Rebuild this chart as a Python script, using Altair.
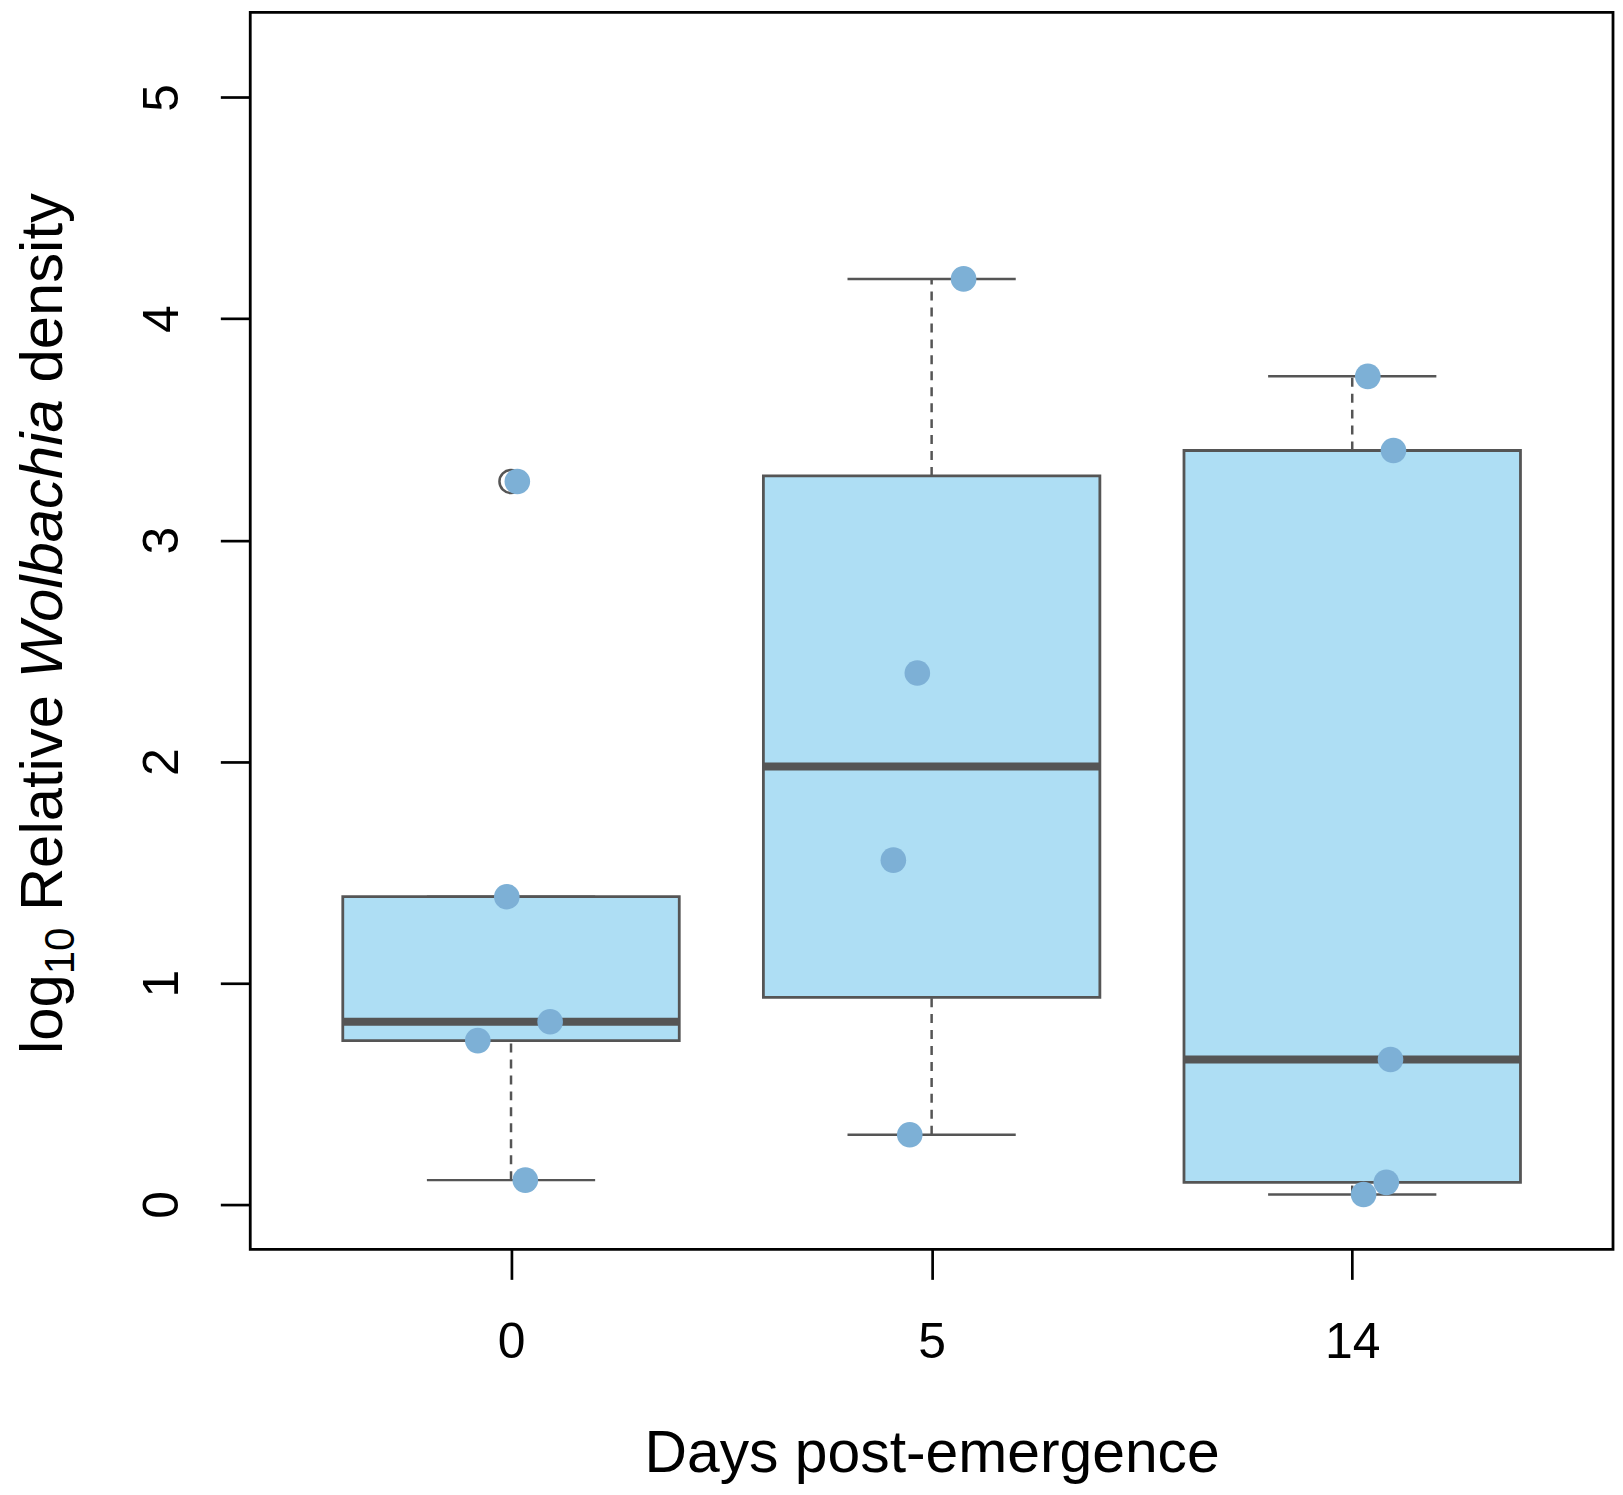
import math
import altair as alt
import pandas as pd

# ---------------- data ----------------
days = ["0", "5", "14"]
positions = [1, 2, 3]
values_day0 = [3.265, 1.39, 0.825, 0.74, 0.11]
jitter_day0 = [0.015, -0.010, 0.093, -0.079, 0.034]
values_day5 = [4.18, 2.40, 1.555, 0.315]
jitter_day5 = [0.076, -0.034, -0.091, -0.052]
values_day14 = [3.74, 3.405, 0.655, 0.10, 0.045]
jitter_day14 = [0.037, 0.098, 0.091, 0.081, 0.027]
y_ticks = [0, 1, 2, 3, 4, 5]

FONT = "Liberation Sans"
BOX_FILL = "#AEDEF4"
LINE_COL = "#555555"
PT_COL = "#7DB0D6"

W, H = 1367, 1241
X_DOMAIN = [0.38, 3.62]
Y_DOMAIN = [-0.203, 5.384]


def fivenum(v):
    x = sorted(v)
    n = len(x)
    n4 = math.floor((n + 3) / 2) / 2
    d = [1, n4, (n + 1) / 2, n + 1 - n4, n]
    return [0.5 * (x[math.floor(di) - 1] + x[math.ceil(di) - 1]) for di in d]


groups = [values_day0, values_day5, values_day14]
jitters = [jitter_day0, jitter_day5, jitter_day14]

box_rows, pt_rows, out_rows = [], [], []
for pos, vals, jit in zip(positions, groups, jitters):
    st = fivenum(vals)
    iqr = st[3] - st[1]
    lo_f, hi_f = st[1] - 1.5 * iqr, st[3] + 1.5 * iqr
    inside = [v for v in vals if lo_f <= v <= hi_f]
    outs = [v for v in vals if v < lo_f or v > hi_f]
    box_rows.append(dict(pos=pos, bl=pos - 0.4, br=pos + 0.4, cl=pos - 0.2, cr=pos + 0.2,
                         wlo=min(inside), q1=st[1], med=st[2], q3=st[3], whi=max(inside)))
    for o in outs:
        out_rows.append(dict(pos=pos, v=o))
    for v, j in zip(vals, jit):
        pt_rows.append(dict(px=pos + j, v=v))

boxes = pd.DataFrame(box_rows)
pts = pd.DataFrame(pt_rows)
outs = pd.DataFrame(out_rows)

label_list = "[" + ",".join("'%s'" % d for d in days) + "]"

x_scale = alt.Scale(domain=X_DOMAIN, nice=False, zero=False)
y_scale = alt.Scale(domain=Y_DOMAIN, nice=False, zero=False)
x_axis = alt.Axis(values=positions, labelExpr=label_list + "[datum.value - 1]",
                  grid=False, domain=False, tickColor="black", tickWidth=2.7, tickSize=30,
                  labelColor="black", labelFont=FONT,
                  title="Days post-emergence", titleFontSize=59, titleFont=FONT,
                  titleFontWeight="normal", titleColor="black", titleBaseline="alphabetic",
                  titleY=223, titleX=W / 2, titleAlign="center",
                  labelFontSize=50, labelPadding=38, labelBaseline="top")
y_axis = alt.Axis(values=y_ticks, title=None, labelAngle=270, labelAlign="center",
                  grid=False, domain=False, tickColor="black", tickWidth=2.7, tickSize=30,
                  labelColor="black", labelFont=FONT,
                  labelBaseline="alphabetic", labelFontSize=50, labelPadding=43)


def X(f):
    return alt.X(f, type="quantitative", scale=x_scale, axis=x_axis)


def Y(f):
    return alt.Y(f, type="quantitative", scale=y_scale, axis=y_axis)


whisk_hi = alt.Chart(boxes).mark_rule(color=LINE_COL, strokeWidth=2.5, strokeDash=[9, 7]).encode(
    x=X("pos"), y=Y("q3"), y2="whi")
whisk_lo = alt.Chart(boxes).mark_rule(color=LINE_COL, strokeWidth=2.5, strokeDash=[9, 7]).encode(
    x=X("pos"), y=Y("wlo"), y2="q1")
cap_hi = alt.Chart(boxes).mark_rule(color=LINE_COL, strokeWidth=2.5).encode(
    x=X("cl"), x2="cr", y=Y("whi"))
cap_lo = alt.Chart(boxes).mark_rule(color=LINE_COL, strokeWidth=2.5).encode(
    x=X("cl"), x2="cr", y=Y("wlo"))
box = alt.Chart(boxes).mark_rect(fill=BOX_FILL, stroke=LINE_COL, strokeWidth=2.8).encode(
    x=X("bl"), x2="br", y=Y("q1"), y2="q3")
median = alt.Chart(boxes).mark_rule(color=LINE_COL, strokeWidth=8, strokeCap="butt").encode(
    x=X("bl"), x2="br", y=Y("med"))
outlier = alt.Chart(outs).mark_point(shape="circle", filled=False, color=LINE_COL,
                                      strokeWidth=2.5, size=540, opacity=1).encode(
    x=X("pos"), y=Y("v"))
points = alt.Chart(pts).mark_circle(color=PT_COL, size=660, opacity=1).encode(
    x=X("px"), y=Y("v"))

# y-axis title pieces (rotated); plot area starts at page x=251, y=10
dummy = pd.DataFrame({"a": [0]})
BX = 62 - 251
SUBX = 74 - 251


def piece(text, x, y, size, style="normal"):
    return alt.Chart(dummy).mark_text(text=text, angle=270, align="left", baseline="alphabetic",
                                      fontSize=size, font=FONT, fontStyle=style,
                                      color="black").encode(x=alt.value(x), y=alt.value(y))


y0 = 1055 - 10
t_log = piece("log", BX, y0, 60)
y1 = y0 - 1.334 * 60
t_sub = piece("10", SUBX, y1, 42)
y2 = y1 - 1.112 * 42 - 0.278 * 60
t_rel = piece("Relative", BX, y2, 60)
y3 = y2 - 3.612 * 60 - 0.278 * 60
t_wol = piece("Wolbachia", BX, y3, 60, "italic")
y4 = y3 - 4.668 * 60 - 0.278 * 60
t_den = piece("density", BX, y4, 60)

chart = alt.layer(
    whisk_hi, whisk_lo, cap_hi, cap_lo, box, median, outlier, points,
    t_log, t_sub, t_rel, t_wol, t_den
).properties(
    width=W, height=H,
    autosize=alt.AutoSizeParams(type="none"),
    padding={"left": 243, "top": 2, "right": 2, "bottom": 234},
).configure(
    background="white"
).configure_view(
    stroke="black", strokeWidth=2.8
).configure_axis(
    grid=False, domain=False, ticks=True, tickColor="black", tickWidth=2.7, tickSize=30,
    labelFont=FONT, labelColor="black", labelFlush=False, labelOverlap=False
)

chart.save("out.html", embed_options={"renderer": "svg", "actions": False})
